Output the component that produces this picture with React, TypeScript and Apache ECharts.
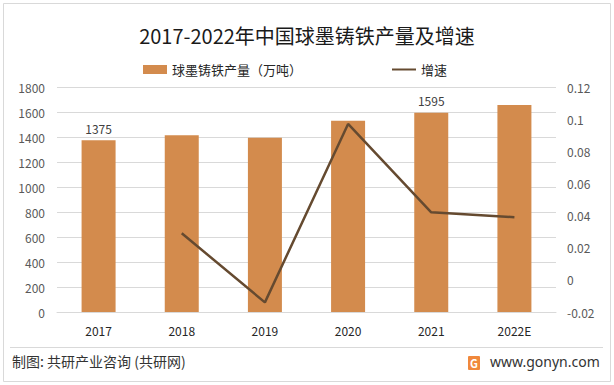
import React, { useEffect, useRef } from "react";
import * as echarts from "echarts";

const categories = ["2017", "2018", "2019", "2020", "2021", "2022E"];
const output = [1375, 1415, 1395, 1530, 1595, 1657];
const growth: (number | null)[] = [null, 0.029, -0.014, 0.097, 0.042, 0.039];
const labeledIdx = [0, 4];

const FONT = "'Noto Sans CJK SC', 'Noto Sans', sans-serif";

export default function App() {
  const ref = useRef<HTMLDivElement>(null);
  useEffect(() => {
    document.body.style.margin = "0";
    const chart = echarts.init(ref.current!, null, { renderer: "svg" });
    chart.setOption({
      animation: false,
      backgroundColor: "#ffffff",
      textStyle: { fontFamily: FONT },
      title: {
        text: "2017-2022年中国球墨铸铁产量及增速",
        left: "center",
        top: 20,
        textStyle: { fontSize: 20, fontWeight: "normal", color: "#1a1a1a", fontFamily: FONT },
      },
      legend: {
        top: 58,
        left: 138,
        itemGap: 90,
        itemWidth: 24,
        itemHeight: 9,
        textStyle: { fontSize: 13, color: "#262626", fontFamily: FONT },
        data: [
          { name: "球墨铸铁产量（万吨）", icon: "rect" },
          { name: "增速", icon: "path://M0,4 L24,4 L24,6 L0,6 Z" },
        ],
      },
      grid: { left: 57, right: 58, top: 87, bottom: 73 },
      xAxis: {
        type: "category",
        data: categories,
        axisTick: { show: false },
        axisLine: { lineStyle: { color: "#d9d9d9" } },
        axisLabel: { color: "#262626", fontSize: 12, margin: 12 },
      },
      yAxis: [
        {
          type: "value",
          min: 0,
          max: 1800,
          interval: 200,
          axisLine: { show: false },
          axisTick: { show: false },
          splitLine: { lineStyle: { color: "#d9d9d9" } },
          axisLabel: { color: "#595959", fontSize: 12, margin: 12, formatter: (v: number) => String(v) },
        },
        {
          type: "value",
          min: -0.02,
          max: 0.12,
          interval: 0.02,
          axisLine: { show: false },
          axisTick: { show: false },
          splitLine: { show: false },
          axisLabel: {
            color: "#595959",
            fontSize: 12,
            margin: 11,
            formatter: (v: number) => String(Number(v.toFixed(2))),
          },
        },
      ],
      series: [
        {
          name: "球墨铸铁产量（万吨）",
          type: "bar",
          barWidth: 34,
          itemStyle: { color: "#D38B4D" },
          data: output.map((v, i) => ({
            value: v,
            label: {
              show: labeledIdx.includes(i),
              position: "top",
              distance: 6,
              color: "#404040",
              fontSize: 12,
            },
          })),
        },
        {
          name: "增速",
          type: "line",
          yAxisIndex: 1,
          data: growth,
          showSymbol: false,
          symbol: "none",
          lineStyle: { color: "#654A30", width: 2.5 },
          itemStyle: { color: "#654A30" },
        },
      ],
      graphic: [
        {
          type: "rect",
          shape: { x: 3.5, y: 3.5, width: 607, height: 378 },
          style: { fill: "none", stroke: "#d9d9d9", lineWidth: 1 },
          silent: true,
        },
        {
          type: "line",
          shape: { x1: 10, y1: 347.5, x2: 603, y2: 347.5 },
          style: { stroke: "#d9d9d9", lineWidth: 1 },
        },
        {
          type: "text",
          left: 12,
          top: 354,
          style: { text: "制图: 共研产业咨询 (共研网)", fontSize: 14, fill: "#333333", fontFamily: FONT },
        },
        {
          type: "rect",
          shape: { x: 468, y: 356, width: 12, height: 14, r: 1 },
          style: { fill: "#F0883C" },
        },
        {
          type: "text",
          x: 474,
          y: 363,
          style: {
            text: "G",
            fontSize: 11,
            fontWeight: "bold",
            fill: "#ffffff",
            align: "center",
            verticalAlign: "middle",
            fontFamily: FONT,
          },
        },
        {
          type: "text",
          left: 490,
          top: 354,
          style: { text: "www.gonyn.com", fontSize: 14, fill: "#333333", fontFamily: "'Noto Sans', sans-serif" },
        },
      ],
    });
    return () => chart.dispose();
  }, []);
  return <div ref={ref} style={{ width: 614, height: 385 }} />;
}
